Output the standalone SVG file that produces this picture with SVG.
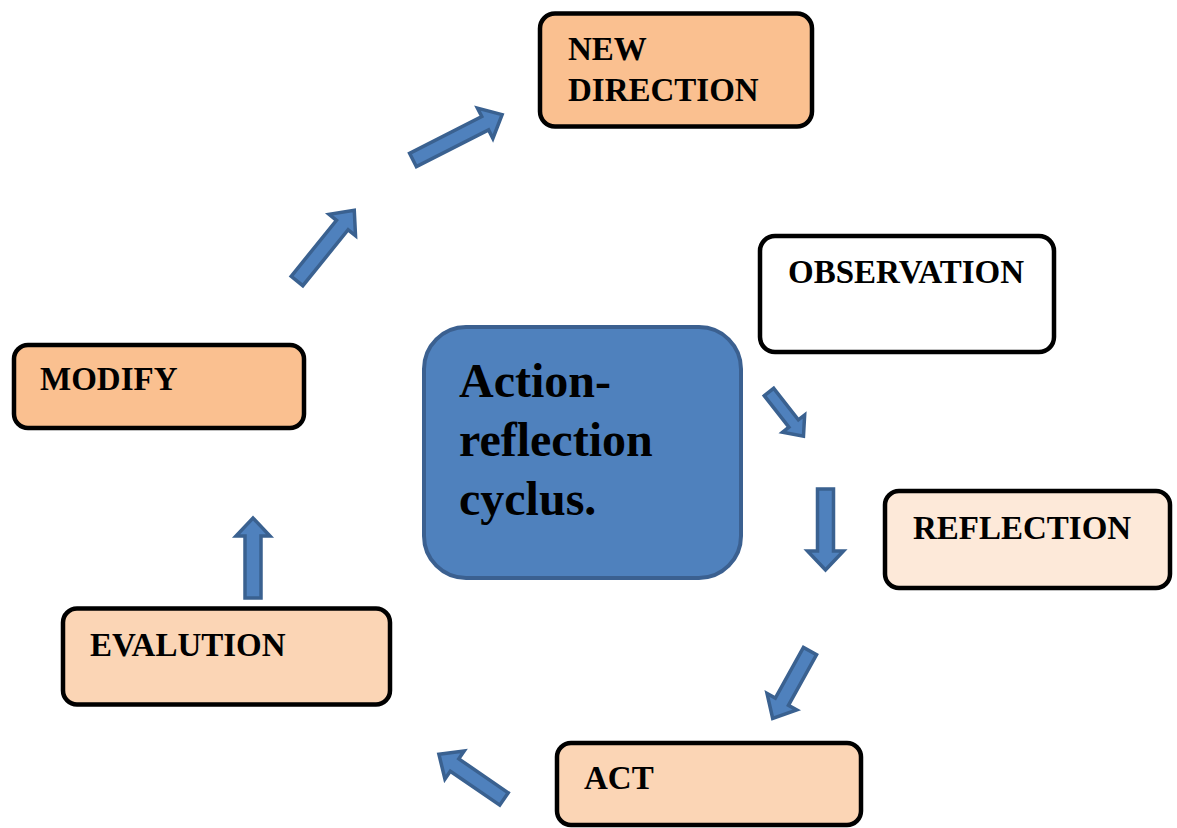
<svg xmlns="http://www.w3.org/2000/svg" width="1177" height="828" viewBox="0 0 1177 828">
  <style>
    .box { stroke: #000; stroke-width: 4.5; }
    .lbl { font-family: "Liberation Serif", "Times New Roman", serif; font-weight: bold; font-size: 33px; fill: #000; }
    .hub { fill: #4f81bd; stroke: #3b6090; stroke-width: 4; }
    .hubtxt { font-family: "Liberation Serif", "Times New Roman", serif; font-weight: bold; font-size: 48px; fill: #000; }
    .arrow { fill: #4f81bd; stroke: #3a6190; stroke-width: 3.5; stroke-linejoin: miter; }
    .peach { fill: #fac090; }
    .light { fill: #fbd5b5; }
    .pale { fill: #fde9d9; }
    .white { fill: #ffffff; }
  </style>
  <rect width="1177" height="828" fill="#ffffff"/>

  <!-- cycle connectors: block arrows drawn along +x, then placed -->
  <g id="connectors">
    <!-- MODIFY up towards NEW DIRECTION -->
    <path class="arrow" transform="translate(297,281) rotate(-51)" d="M0,-7.5 L72,-7.5 L72,-17 L91,0 L72,17 L72,7.5 L0,7.5 Z"/>
    <path class="arrow" transform="translate(413,160) rotate(-27)" d="M0,-7.5 L81,-7.5 L81,-17 L100,0 L81,17 L81,7.5 L0,7.5 Z"/>
    <!-- OBSERVATION to REFLECTION -->
    <path class="arrow" transform="translate(769,392) rotate(52)" d="M0,-6 L40,-6 L40,-14 L56,0 L40,14 L40,6 L0,6 Z"/>
    <path class="arrow" transform="translate(825.5,489) rotate(90)" d="M0,-8 L62,-8 L62,-18 L81,0 L62,18 L62,8 L0,8 Z"/>
    <!-- REFLECTION to ACT -->
    <path class="arrow" transform="translate(810,651) rotate(119)" d="M0,-7.5 L58,-7.5 L58,-17 L77,0 L58,17 L58,7.5 L0,7.5 Z"/>
    <!-- ACT to EVALUTION -->
    <path class="arrow" transform="translate(504,799) rotate(-145.5)" d="M0,-7.5 L60,-7.5 L60,-17 L79,0 L60,17 L60,7.5 L0,7.5 Z"/>
    <!-- EVALUTION to MODIFY -->
    <path class="arrow" transform="translate(253,598) rotate(-90)" d="M0,-8 L62,-8 L62,-17 L80,0 L62,17 L62,8 L0,8 Z"/>
  </g>

  <g id="node-new-direction">
    <rect class="box peach" x="540" y="13.5" width="272" height="113" rx="15"/>
    <text class="lbl" x="568" y="60">NEW</text>
    <text class="lbl" x="568" y="101">DIRECTION</text>
  </g>

  <g id="node-observation">
    <rect class="box white" x="760" y="236" width="294" height="116" rx="15"/>
    <text class="lbl" x="788" y="283">OBSERVATION</text>
  </g>

  <g id="node-hub">
    <rect class="hub" x="424" y="327" width="317" height="251" rx="42"/>
    <text class="hubtxt" x="459" y="397">Action-</text>
    <text class="hubtxt" x="459" y="456">reflection</text>
    <text class="hubtxt" x="459" y="515">cyclus.</text>
  </g>

  <g id="node-modify">
    <rect class="box peach" x="14" y="345" width="290" height="83" rx="14"/>
    <text class="lbl" x="40" y="390">MODIFY</text>
  </g>

  <g id="node-reflection">
    <rect class="box pale" x="885" y="491" width="285" height="97" rx="14"/>
    <text class="lbl" x="913" y="539">REFLECTION</text>
  </g>

  <g id="node-evalution">
    <rect class="box light" x="63" y="608.5" width="327" height="96" rx="14"/>
    <text class="lbl" x="90" y="656">EVALUTION</text>
  </g>

  <g id="node-act">
    <rect class="box light" x="557" y="743" width="304" height="82" rx="14"/>
    <text class="lbl" x="584" y="789">ACT</text>
  </g>
</svg>
